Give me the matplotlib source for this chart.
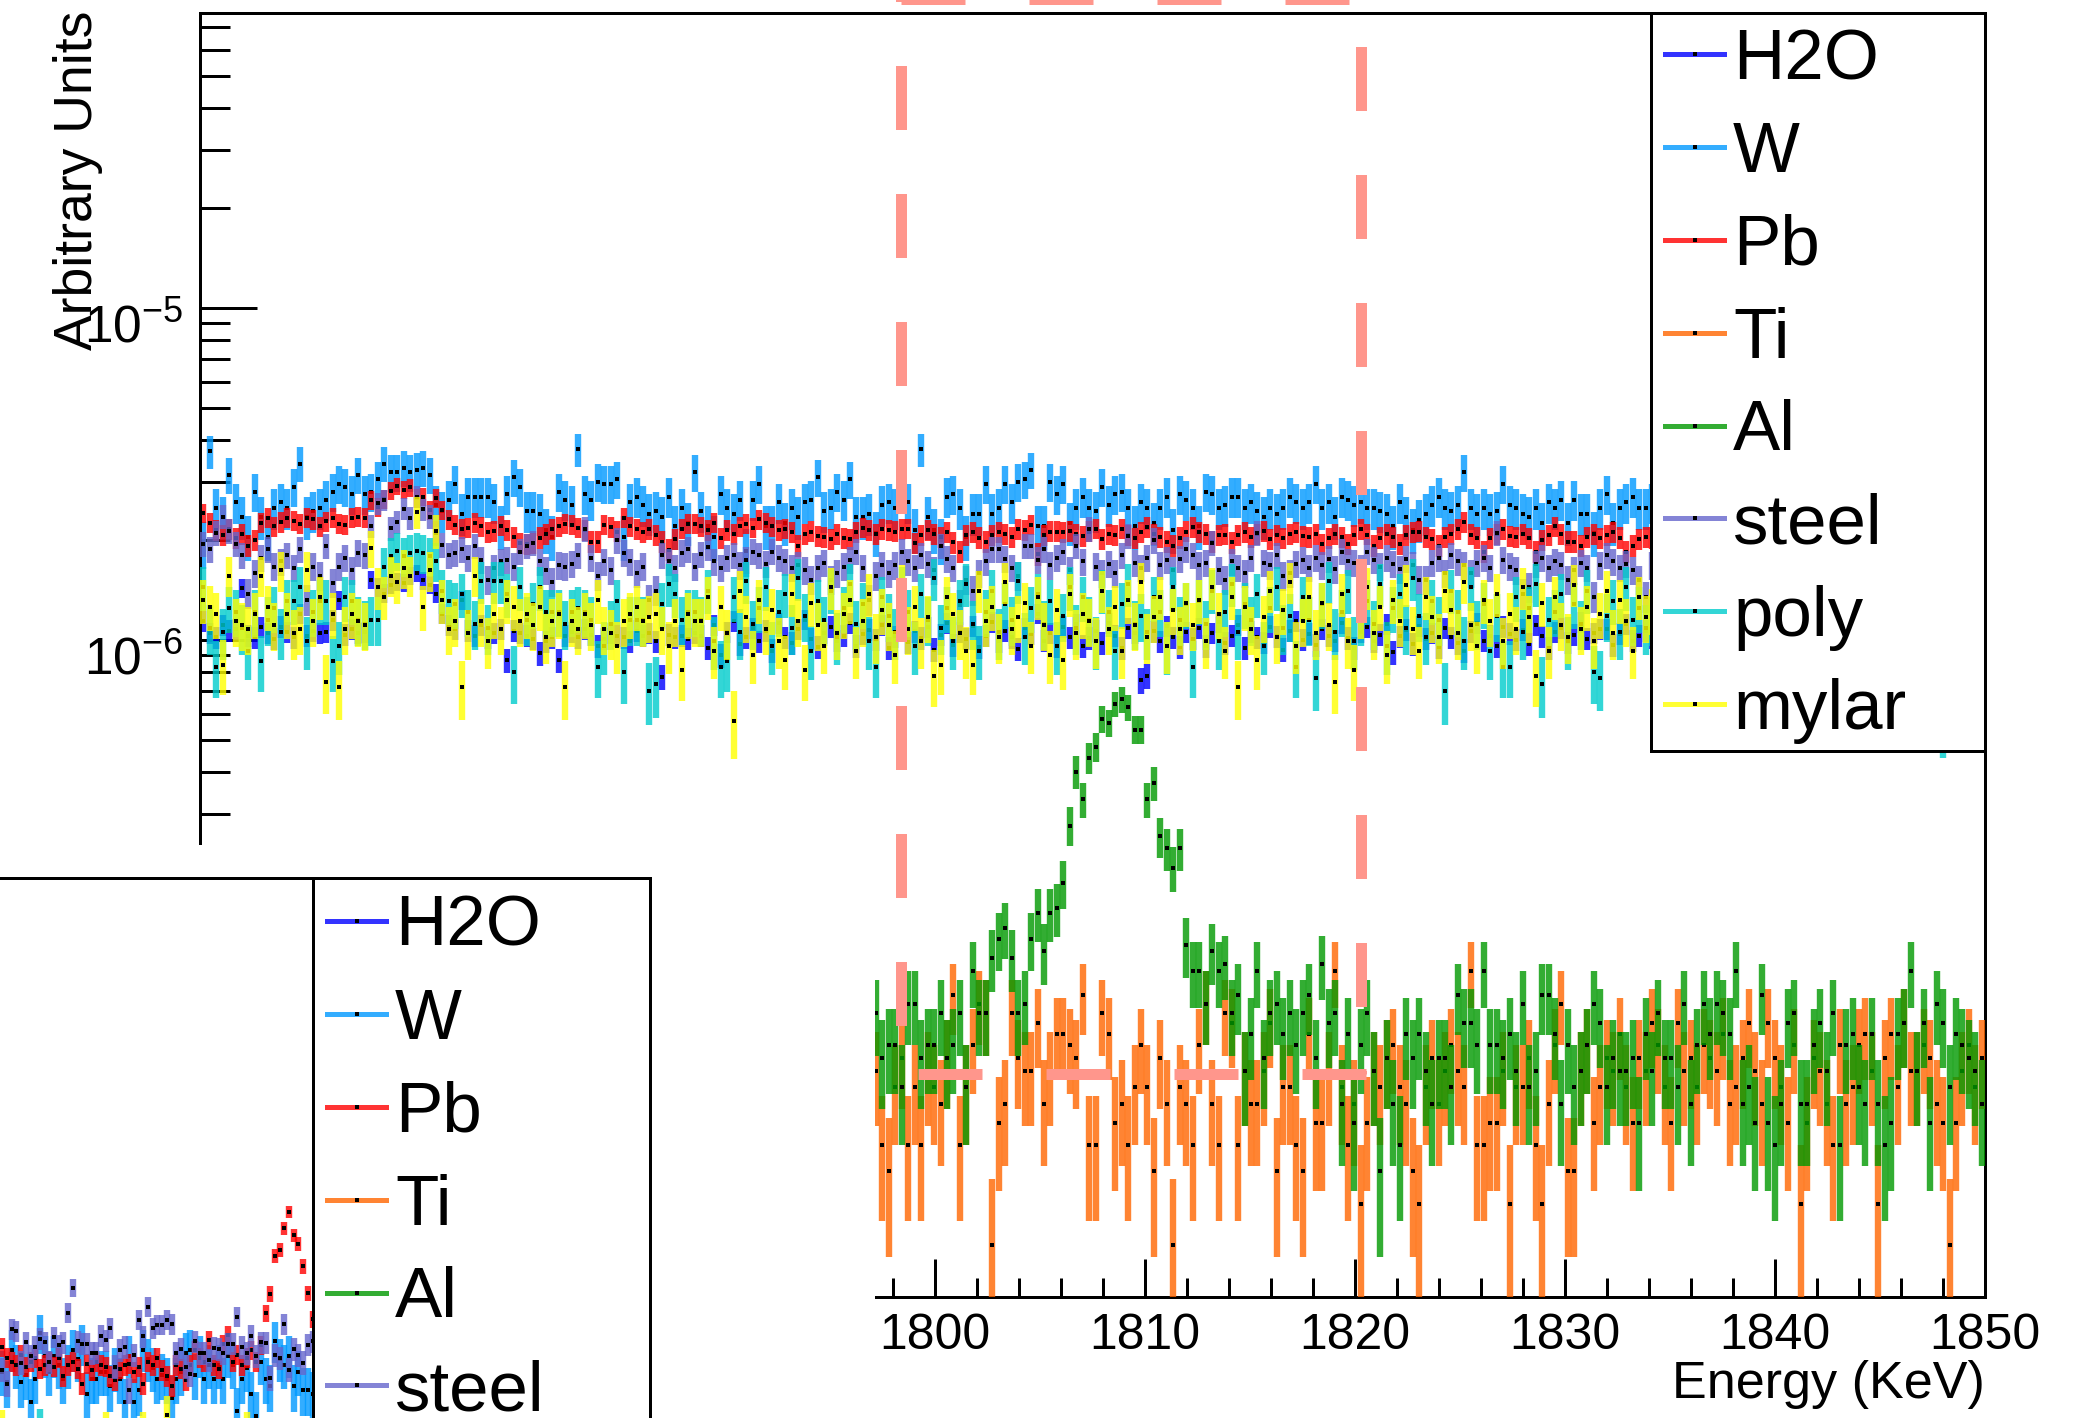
import numpy as np
import matplotlib
matplotlib.use("Agg")
import matplotlib.pyplot as plt
from matplotlib.lines import Line2D
from matplotlib.patches import Rectangle
from matplotlib.colors import to_rgba
from matplotlib.transforms import ScaledTranslation
from matplotlib.ticker import (LogLocator, LogFormatterSciNotation, MultipleLocator,
                               NullFormatter, FormatStrFormatter)

plt.rcParams['font.family'] = ['Liberation Sans', 'DejaVu Sans']
plt.rcParams['mathtext.fontset'] = 'custom'
plt.rcParams['mathtext.rm'] = 'Liberation Sans'
plt.rcParams['mathtext.it'] = 'Liberation Sans:italic'
plt.rcParams['mathtext.bf'] = 'Liberation Sans:bold'
plt.rcParams['mathtext.default'] = 'regular'
plt.rcParams['lines.scale_dashes'] = False

# ------------------------------------------------------------------ data
labels = ["H2O", "W", "Pb", "Ti", "Al", "steel", "poly", "mylar"]
base_colors = ["#0000FF", "#0099FF", "#FF0000", "#FF6600", "#009900",
               "#6666CC", "#00CCCC", "#FFFF00"]
# value of one count (histogram normalisation) for each material
per_count = [6.0e-9, 5.0e-8, 1.1e-8, 5.02e-9, 5.02e-9, 1.5e-8, 3.2e-8, 3.0e-8]

bin_start = 1765.151   # keV, centre of first bin
bin_width = 0.308      # keV

h2o_counts = [
    190,175,170,185,178,180,239,172,170,182, 175,168,183,176,170,200,172,178,175,176,
    191,220,173,180,175,176,253,240,230,245, 250,248,260,265,252,245,230,200,185,180,
    220,178,172,185,170,175,180,145,178,175, 172,168,152,165,170,145,172,176,170,180,
    173,160,168,175,172,170,165,178,172,175, 165,129,173,170,172,168,175,
    172,158,185,150,176,190,162,170,181,165, 178,155,187,170,163,180,192,168,159,175,
    183,166,172,188,160,174,179,167,185,158, 171,190,164,177,169,182,156,173,187,161,
    176,168,184,159,172,189,165,178,170,157, 181,174,200,166,175,160,183,170,186,160,
    169,178,163,187,172,158,181,175,126,130, 177,165,184,170,159,176,
    168,181,160,175,189,163,172,185,158,177, 170,164,183,171,156,178,190,167,174,161,
    180,172,166,187,169,158,176,182,165,173, 186,153,171,179,162,184,168,175,159,181,
    170,163,155,177,188,166,172,160,183,174, 167,179,162,185,171,158,176,181,164,173,
    189,168,175,180,180,161,174,186,166,172, 178,
    170,183,162,176,188,165,174,159,181,172, 167,185,160,177,171,189,163,175,168,182,
    158,174,186,166,172,179,161,184,170,176, 165,187,169,173,160,181,175,167,183,171,
    164,178,190,162,174,169,185,166,177,172, 180,168]

w_counts = [
    39,74,50,47,63,52,47,41,56,47, 41,50,52,50,58,68,47,49,50,53,
    56,59,58,55,63,55,56,61,68,64, 64,66,64,65,66,63,51,49,53,59,
    48,54,54,54,54,52,44,55,62,58, 49,49,48,43,41,56,53,51,75,55,
    53,60,59,59,61,41,52,54,51,48, 49,47,54,44,50,45,64,
    49,44,41,55,50,48,53,37,53,59, 44,44,52,45,50,47,52,53,62,49,
    50,56,53,61,47,47,48,42,51,52, 50,59,52,43,75,47,43,40,54,55,
    50,41,48,48,59,48,50,59,52,60, 61,65,44,44,60,55,59,45,50,54,
    50,49,58,51,55,56,50,44,52,50, 45,50,54,43,55,53,
    50,44,56,55,50,51,54,54,50,52, 49,47,50,48,50,54,52,50,52,59,
    50,52,47,54,53,51,52,50,50,49, 48,44,52,47,43,46,48,51,54,50,
    49,51,64,50,48,50,48,49,59,51, 50,48,47,50,45,52,50,53,45,53,
    48,48,42,50,55,45,50,52,54,50, 50,
    52,49,55,50,47,53,51,48,54,50, 52,47,51,55,49,50,53,48,52,50,
    46,54,51,49,53,50,48,52,55,47, 50,51,49,53,48,52,50,54,47,51,
    49,52,50,48,53,51,47,50,52,49, 51,50]

pb_counts = [
    219,205,195,188,196,184,190,175,182,205, 212,200,206,212,208,204,212,210,200,207,
    212,204,202,212,214,212,240,228,241,256, 264,258,262,243,246,224,243,224,210,202,
    197,198,205,200,192,194,201,195,186,178, 177,178,185,190,196,200,204,202,198,195,
    180,180,202,199,193,212,200,196,192,196, 188,180,170,183,197,204,204,
    200,195,205,184,195,190,200,204,198,210, 205,200,195,197,192,175,190,193,187,186,
    183,190,184,183,192,198,195,190,196,195, 193,196,197,178,188,195,190,186,192,179,
    168,188,192,185,180,188,192,190,186,196, 195,202,165,188,193,193,192,194,190,187,
    193,197,183,190,188,197,188,184,192,199, 190,186,180,175,185,193,
    199,192,190,180,188,189,179,188,192,186, 190,194,183,188,184,190,192,187,186,190,
    177,184,190,186,177,188,196,189,175,185, 190,186,177,188,192,193,186,183,175,186,
    190,196,206,189,185,168,184,190,196,187, 186,190,184,168,182,188,200,190,180,180,
    175,186,190,184,188,192,185,168,175,183, 186,
    185,190,180,188,195,183,186,178,192,187, 184,190,182,188,193,179,186,191,184,189,
    180,187,192,185,183,190,186,181,189,184, 192,185,180,188,186,190,183,187,191,184,
    182,189,186,190,184,187,181,188,185,190, 183,186]

steel_counts = [
    130,125,140,157,142,130,120,92,106,118, 125,111,115,120,110,125,88,111,104,128,
    99,111,118,108,122,120,147,172,176,145, 151,166,155,180,165,157,140,129,120,122,
    125,118,128,116,101,110,115,116,111,123, 128,131,115,108,100,112,111,113,120,144,
    118,104,115,108,133,122,115,106,111,88, 94,120,115,110,122,125,111,
    121,127,115,110,118,120,112,116,123,120, 113,123,118,115,110,112,108,101,110,114,
    101,106,111,116,123,110,88,104,112,106, 112,123,115,110,120,113,108,128,117,110,
    85,101,94,106,115,125,125,117,110,104, 128,128,116,125,112,118,123,108,128,115,
    144,111,106,113,106,120,137,114,110,118, 133,112,116,108,117,125,
    120,112,114,131,108,101,115,110,106,118, 140,114,112,120,104,106,113,116,110,118,
    112,117,109,123,115,114,110,123,116,111, 118,113,109,117,112,101,101,114,118,106,
    120,115,112,106,114,118,110,140,116,111, 108,92,96,113,118,110,115,112,101,108,
    114,110,90,112,120,115,110,113,108,101, 90,
    112,118,106,115,110,121,108,114,117,104, 113,119,110,107,116,112,120,109,115,111,
    106,118,113,110,117,108,114,121,111,109, 116,112,107,118,113,110,115,119,108,112,
    114,110,117,106,113,118,111,115,109,114, 112,116]

poly_counts = [
    45,34,26,33,39,38,34,29,38,27, 36,39,33,41,41,45,31,38,41,41,
    27,30,42,41,36,35,36,36,52,56, 58,56,57,58,57,56,54,44,41,40,
    43,38,35,47,34,47,47,43,25,45, 36,40,45,38,38,38,35,38,39,38,
    36,26,30,35,41,25,36,36,36,22, 23,40,46,43,36,38,38,
    36,44,31,26,27,42,33,47,35,39, 45,30,38,43,34,48,37,29,41,36,
    44,32,39,46,35,40,31,26,42,37, 33,45,38,30,43,36,48,34,39,31,
    41,46,35,29,38,44,33,40,36,47, 32,39,43,35,41,30,37,45,34,42,
    36,31,44,38,29,40,46,35,37,33, 42,38,30,45,36,40,
    26,41,35,44,31,38,46,33,40,36, 43,30,39,45,34,37,26,42,36,24,
    40,47,33,38,44,31,36,41,35,46, 30,39,43,34,48,37,32,41,36,22,
    44,38,31,45,35,40,29,37,26,26, 42,33,39,46,23,36,38,43,31,40,
    35,44,25,24,37,41,33,45,36,39, 34,
    36,42,31,45,38,33,40,47,35,39, 30,43,37,41,34,46,32,38,44,36,
    40,31,45,37,33,42,39,35,47,30, 38,44,36,41,34,39,45,32,37,43,
    35,40,33,46,38,18,36,42,31,39, 44,35]

mylar_counts = [
    44,42,40,28,52,38,37,36,40,52, 42,37,54,40,35,36,54,38,45,25,
    40,24,36,40,38,37,63,48,45,52, 50,55,52,81,42,54,71,44,36,38,
    24,35,52,38,33,40,36,44,42,38, 40,37,42,34,38,40,24,38,36,40,
    37,44,36,35,32,38,40,42,38,39, 40,36,32,38,27,40,38,
    38,45,31,42,35,19,47,39,30,44, 36,41,33,29,46,38,27,43,37,32,
    48,35,40,44,31,38,46,34,41,37, 30,49,36,42,33,39,26,28,45,40,
    35,31,28,47,38,42,34,50,36,39, 43,32,45,37,30,41,29,46,35,40,
    38,33,47,36,42,31,44,37,50,34, 39,45,32,41,36,43,
    37,44,33,48,40,31,45,24,42,36, 29,39,47,34,41,50,32,38,45,35,
    43,37,25,46,33,27,40,48,35,42, 30,44,38,49,36,31,45,39,34,47,
    41,35,50,37,32,44,38,46,33,40, 36,48,39,26,43,31,45,37,34,49,
    36,42,33,40,47,35,44,38,31,45, 39,
    41,34,47,38,43,31,46,37,40,35, 48,33,42,39,45,36,30,44,38,47,
    35,41,33,46,39,37,43,32,48,36, 40,45,34,42,38,31,47,36,44,39,
    33,46,40,35,43,38,49,34,41,37, 45,36]

# Ti and Al: only the part right of 1797 keV is visible
low_first_bin = 104
ti_counts = [
    10,6,5,9,11,6,9,6,10,9, 8,11,17,6,9,12,16,15,3,7,
    8,15,11,10,10,14,8,10,13,13, 12,11,17,6,6,15,13,7,8,6,
    9,12,9,5,11,8,3,9,8,6, 12,16,8,6,15,14,6,10,8,8,
    10,14,5,9,9,6,5,13,7,7, 10,20,9,6,8,4,7,
    10,9,11,12,9,8,5,4,9,11, 8,10,12,10,9,20,6,6,7,7,
    10,4,9,9,11,6,4,8,12,16, 5,5,10,12,7,9,11,10,13,9,
    7,11,10,14,12,9,7,14,10,11, 9,12,11,10,13,8,9,11,14,10,
    8,14,11,9,7,12,4,7,11,10, 8,6,12,8,9,12,13,10,4,11,
    13,9,14,10,10,12,11,8,7,3, 7,10,12,9,11]
al_counts = [
    15,11,12,12,9,16,16,11,12,12, 15,11,12,15,9,20,15,15,22,25,
    27,22,15,16,25,30,23,30,31,37, 55,80,66,88,95,115,112,128,132,125,
    107,107,66,74,51,47,41,47,24,20, 20,16,23,20,21,15,17,10,13,20,
    11,15,16,13,15,12,15,17,11,21, 14,15,8,13,7,12,15,10,5,
    11,8,6,13,11,13,10,8,11,11, 9,17,14,14,12,20,12,12,11,13,
    10,16,9,10,17,17,13,8,12,9, 10,12,16,14,9,11,10,10,11,7,
    13,10,15,11,11,9,16,8,12,16, 13,16,15,13,20,8,9,7,17,7,
    6,8,14,15,8,8,12,14,10,15, 6,12,13,9,8,13,8,6,7,13,
    14,20,10,14,7,16,14,9,13,12, 11,10,8]

# small pad in the lower-left corner (same materials, lower energies)
inner_start = 1745.75
inner_w_counts = [
    42,39,49,44,39,41,34,40,55,47, 42,47,44,40,44,49,46,51,36,40,
    40,42,42,38,43,40,34,47,34,37, 49,46,43,40,41,40,35,40,42,48,
    49,41,47,40,44,40,44,40,47,44, 32,40,43,36,31,45,40,38,52,46,
    44,47,38,42,37,37,36]
inner_pb_counts = [
    227,210,205,200,215,198,205,210,195,200, 205,198,210,185,200,205,195,176,202,193,
    205,200,198,185,180,195,200,202,190,198, 176,205,200,210,193,185,173,200,195,180,
    200,222,210,205,238,200,195,232,246,205, 215,200,210,222,205,230,
    287,327,426,444,517,578,493,463,397,329,275]
inner_steel_counts = [
    142,129,188,186,149,172,156,166,176,172, 150,178,168,172,211,251,173,170,170,159,
    160,180,174,190,145,163,166,123,157,201, 179,220,190,194,194,201,195,159,164,145,
    138,173,159,159,152,165,164,159,170,170, 205,166,159,180,156,172,171,134,157,154,
    195,142,164,157,149,169,173]
inner_poly_counts = [
    34,33,36,32,35,34,31,33,44,35, 32,34,36,33,31,35,34,32,36,33,
    35,31,34,33,36,32,35,34,33,31, 34,36,32,35,33,34,31,36,33,35,
    32,34,33,36,31,35,34,32,33,36, 34,31,35,33,32,36,34,33,35,31,
    34,32,36,33,35,34,32]
inner_mylar_counts = [
    47,38,36,39,37,40,36,38,35,39, 37,38,36,40,37,35,39,38,36,37,
    38,36,46,39,37,38,36,40,37,35, 46,38,36,39,37,52,38,36,40,37,
    35,39,38,36,37,40,38,35,39,37, 36,38,46,37,39,36,38,40,37,35,
    38,36,39,37,40,38,36]

# region-of-interest box around the 1809 keV line
roi_low, roi_high = 1798.4, 1820.3
roi_bottom_right = 1820.53
roi_bottom, roi_top = 4.93e-8, 8.50e-5

# ------------------------------------------------------------------ figure
W_PX, H_PX, DPI = 2095, 1418, 100
fig = plt.figure(figsize=(W_PX / DPI, H_PX / DPI), dpi=DPI)
fig.patch.set_facecolor('white')
PT = 72.0 / DPI  # points per pixel


def px_rect(l, t, r, b):
    return [l / W_PX, 1 - b / H_PX, (r - l) / W_PX, (b - t) / H_PX]


def fig_xy(x, y):
    return (x / W_PX, 1 - y / H_PX)


colors = [to_rgba(c, 0.8) for c in base_colors]


def draw_hist(axis, first_centre, counts, unit, color, z):
    n = np.asarray(counts, dtype=float)
    x = first_centre + bin_width * np.arange(n.size)
    y = n * unit
    err = np.sqrt(n) * unit
    axis.errorbar(x, y, yerr=err, fmt='s', ms=2.4, mfc='black', mec='black', mew=0,
                  ecolor=color, elinewidth=4.6, capsize=0, zorder=z)


FRAME_LW = 3 * PT

# ---------------- main pad
ax = fig.add_axes(px_rect(200, 13, 1985, 1297), zorder=0)
ax.set_facecolor('white')
ax.set_yscale('log')

series = [
    (bin_start, h2o_counts), (bin_start, w_counts), (bin_start, pb_counts),
    (bin_start + low_first_bin * bin_width, ti_counts),
    (bin_start + low_first_bin * bin_width, al_counts),
    (bin_start, steel_counts), (bin_start, poly_counts), (bin_start, mylar_counts)]
for k, (x0, cnt) in enumerate(series):
    draw_hist(ax, x0, cnt, per_count[k], colors[k], 2 + 0.2 * k)

ax.set_xlim(1765, 1850)
ax.set_ylim(1.05e-8, 7.74e-5)

ax.xaxis.set_major_locator(MultipleLocator(10))
ax.xaxis.set_minor_locator(MultipleLocator(2))
ax.xaxis.set_major_formatter(FormatStrFormatter('%d'))
ax.yaxis.set_major_locator(LogLocator(base=10, numticks=20))
ax.yaxis.set_minor_locator(LogLocator(base=10, subs=np.arange(2, 10), numticks=20))
ax.yaxis.set_major_formatter(LogFormatterSciNotation())
ax.yaxis.set_minor_formatter(NullFormatter())
ax.tick_params(axis='y', which='major', direction='in', length=57 * PT, width=FRAME_LW,
               labelsize=37, pad=12)
ax.tick_params(axis='y', which='minor', direction='in', length=30 * PT, width=FRAME_LW)
ax.tick_params(axis='x', which='major', direction='in', length=38 * PT, width=FRAME_LW,
               labelsize=36, pad=11.5)
ax.tick_params(axis='x', which='minor', direction='in', length=19 * PT, width=FRAME_LW)
ax.tick_params(which='both', top=False, right=False)
label_shift = ScaledTranslation(0, -15 / DPI, fig.dpi_scale_trans)
for t in ax.yaxis.get_major_ticks():
    t.label1.set_transform(t.label1.get_transform() + label_shift)
for s in ax.spines.values():
    s.set_linewidth(FRAME_LW)

ax.set_xlabel('Energy (KeV)', loc='right', fontsize=37.5)
ax.xaxis.set_label_coords(1.0, -(1398 - 1297) / (1297 - 13))
ax.xaxis.label.set_verticalalignment('baseline')
ax.set_ylabel('Arbitrary Units', loc='top', fontsize=38.5)
ax.yaxis.set_label_coords((92 - 200) / (1985 - 200), 1.0 + 2 / (1297 - 13))
ax.yaxis.label.set_verticalalignment('baseline')

# ROI box (dashed salmon lines)
roi_color = '#FF968C'
on_off = (64 * PT, 64 * PT)
roi_kw = dict(color=roi_color, lw=11 * PT, dash_capstyle='butt', solid_capstyle='butt',
              clip_on=False, zorder=15)
ax.add_line(Line2D([roi_low, roi_low], [roi_top, roi_bottom],
                   linestyle=(61.5 * PT, on_off), **roi_kw))
ax.add_line(Line2D([roi_high, roi_high], [roi_top, roi_bottom],
                   linestyle=(80.5 * PT, on_off), **roi_kw))
ax.add_line(Line2D([roi_low, roi_high], [roi_top, roi_top],
                   linestyle=(0, on_off), **roi_kw))
ax.add_line(Line2D([roi_bottom_right, roi_low], [roi_bottom, roi_bottom],
                   linestyle=(0, on_off), **roi_kw))


# legends
def legend_handles():
    return [Line2D([], [], color=c, lw=5 * PT, marker='s', ms=2.4, mfc='black',
                   mec='black', mew=0) for c in colors]


LEG_FS = 51
ax.add_patch(Rectangle(fig_xy(1651, 751), (1985 - 1651) / W_PX, (751 - 13) / H_PX,
                       transform=fig.transFigure, facecolor='white', edgecolor='black',
                       lw=FRAME_LW, clip_on=False, zorder=19))
leg_kw = dict(loc='upper left', frameon=False, fontsize=LEG_FS, borderpad=0,
              borderaxespad=0, handlelength=59 / (LEG_FS / PT),
              handletextpad=9 / (LEG_FS / PT), numpoints=1, labelspacing=0.379,
              bbox_transform=fig.transFigure)
leg = ax.legend(legend_handles(), labels, bbox_to_anchor=fig_xy(1665, 56 - 28), **leg_kw)
leg.set_zorder(20)

# ---------------- white pad covering the lower-left corner
cover = fig.add_axes(px_rect(0, 845, 875, H_PX), zorder=1)
cover.set_facecolor('white')
cover.set_xticks([])
cover.set_yticks([])
for s in cover.spines.values():
    s.set_visible(False)

# ---------------- small pad inside it
inner = fig.add_axes(px_rect(-125, 878, 650, 1500), zorder=2)
inner.set_facecolor('none')
inner.set_yscale('log')
inner_series = [(1, inner_w_counts), (2, inner_pb_counts), (5, inner_steel_counts),
                (6, inner_poly_counts), (7, inner_mylar_counts)]
for k, cnt in inner_series:
    draw_hist(inner, inner_start, cnt, per_count[k], colors[k], 2 + 0.2 * k)
inner.set_xlim(1737.4, 1788.2)
inner.set_ylim(8.63e-7, 6.45e-5)
inner.tick_params(which='both', length=0, labelleft=False, labelbottom=False)
for name, s in inner.spines.items():
    s.set_linewidth(FRAME_LW)
    if name in ('left', 'bottom'):
        s.set_visible(False)
inner.add_patch(Rectangle(fig_xy(313, 1700), (650 - 313) / W_PX, (1700 - 878) / H_PX,
                          transform=fig.transFigure, facecolor='white', edgecolor='black',
                          lw=FRAME_LW, clip_on=False, zorder=19))
leg2 = inner.legend(legend_handles(), labels, bbox_to_anchor=fig_xy(327, 922 - 27), **leg_kw)
leg2.set_zorder(20)

fig.savefig('out.png', dpi=DPI, facecolor='white')
